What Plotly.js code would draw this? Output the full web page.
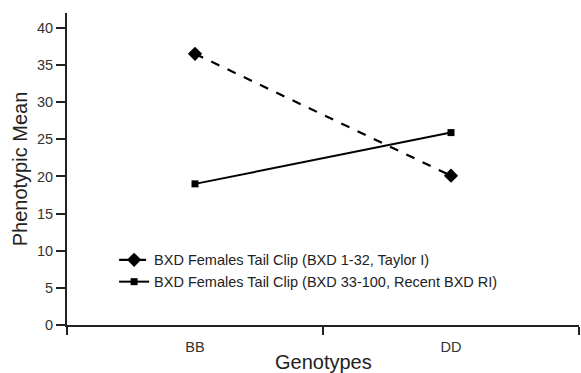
<!DOCTYPE html>
<html><head><meta charset="utf-8">
<script src="https://cdn.plot.ly/plotly-3.0.1.min.js"></script>
<style>html,body{margin:0;padding:0;background:#fff}#chart{width:581px;height:373px}</style>
</head><body><div id="chart"></div>
<script>
var genotypes = ["BB", "DD"];
var taylorMeans = [36.5, 20.1];
var recentMeans = [19.0, 25.9];
var seriesNames = ["BXD Females Tail Clip (BXD 1-32, Taylor I)", "BXD Females Tail Clip (BXD 33-100, Recent BXD RI)"];
var yTicks = [0, 5, 10, 15, 20, 25, 30, 35, 40];
var xTitle = "Genotypes";
var yTitle = "Phenotypic Mean";

var font = "Liberation Sans, Arial, sans-serif";
var traces = [
  {x: genotypes, y: taylorMeans, name: seriesNames[0], type: "scatter", mode: "lines+markers",
   line: {color: "#000", width: 2.2, dash: "dash"}, marker: {symbol: "diamond", size: 11, color: "#000"}},
  {x: genotypes, y: recentMeans, name: seriesNames[1], type: "scatter", mode: "lines+markers",
   line: {color: "#000", width: 2}, marker: {symbol: "square", size: 7, color: "#000"}}
];
var layout = {
  width: 581, height: 373,
  margin: {l: 67, r: 2, t: 13, b: 48},
  paper_bgcolor: "#fff", plot_bgcolor: "#fff",
  font: {family: font, color: "#222", size: 14},
  showlegend: true,
  legend: {x: 0.092, y: 0.26, xanchor: "left", yanchor: "top", bgcolor: "rgba(0,0,0,0)",
           font: {size: 14.5, color: "#222", family: font}, tracegroupgap: 0},
  xaxis: {type: "category", range: [-0.5, 1.5], tickson: "boundaries", ticks: "outside", ticklen: 8,
          tickwidth: 2, tickcolor: "#222", showline: true, linecolor: "#222", linewidth: 2,
          showgrid: false, zeroline: false, tickfont: {size: 14.5, color: "#333"}, ticklabelstandoff: 8,
          automargin: false},
  yaxis: {range: [0, 42], tickvals: yTicks, ticks: "outside", ticklen: 9, tickwidth: 2, tickcolor: "#222",
          showline: true, linecolor: "#222", linewidth: 2, showgrid: false, zeroline: false,
          tickfont: {size: 14.5, color: "#333"}, automargin: false,
          title: {text: yTitle, font: {size: 20, color: "#222"}, standoff: 4}},
  annotations: [{text: xTitle, xref: "paper", yref: "paper", x: 0.5, y: 0, xanchor: "center", yanchor: "middle",
                 yshift: -37, showarrow: false, font: {size: 20, color: "#222", family: font}}]
};
Plotly.newPlot("chart", traces, layout, {staticPlot: true});
</script></body></html>
